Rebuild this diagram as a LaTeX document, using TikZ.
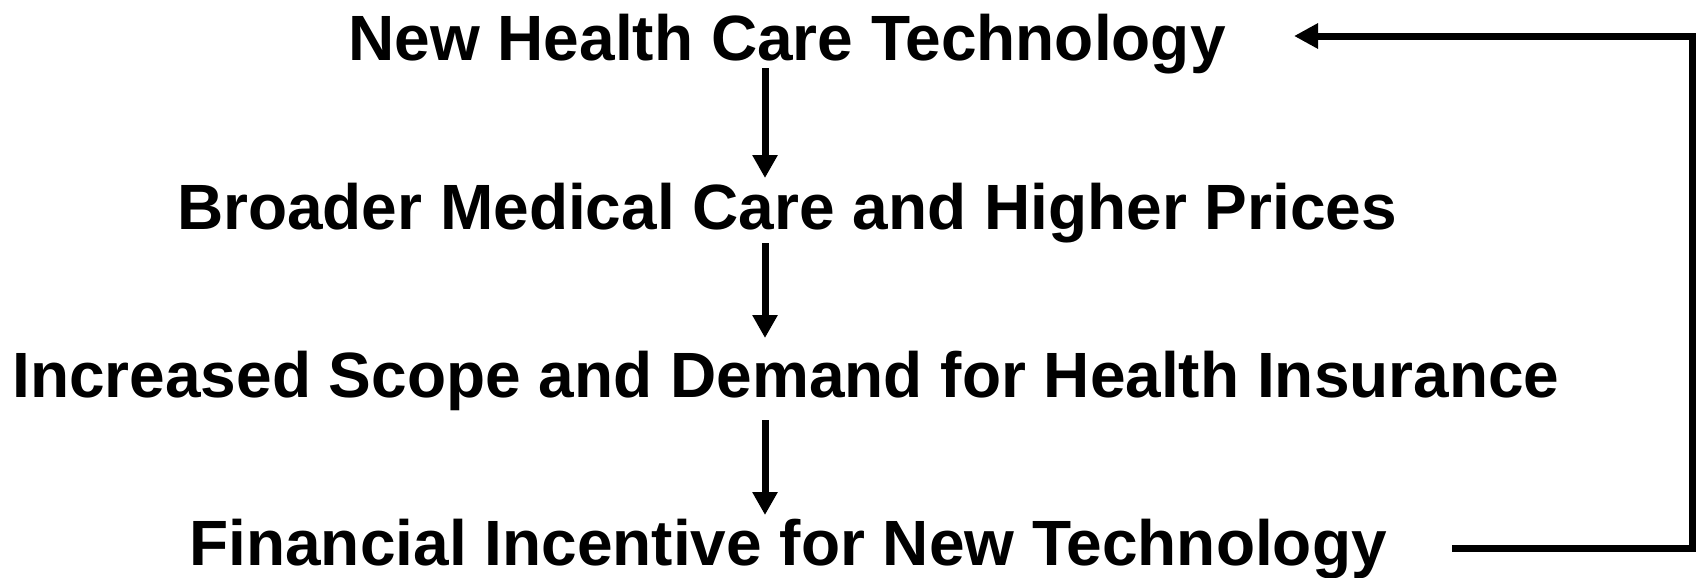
\documentclass[tikz,border=0pt]{standalone}
\usepackage{fontspec}
\setmainfont{Liberation Sans}
\usetikzlibrary{arrows.meta}
\begin{document}
\begin{tikzpicture}[x=0.5pt,y=-0.5pt,
  lbl/.style={font=\bfseries\fontsize{32pt}{38pt}\selectfont, inner sep=0pt, anchor=base},
  arr/.style={line width=3.5pt, -{Triangle[length=11.5pt,width=12pt]}},
  fb/.style={line width=3.5pt, -{Triangle[length=12pt,width=12pt]}}]
\useasboundingbox (0,0) rectangle (1703,578);
\node[lbl] (t1) at (787,61) {New Health Care Technology};
\node[lbl] (t2) at (787,229) {Broader Medical Care and Higher Prices};
\node[lbl] (t3) at (786,397) {Increased Scope and Demand for Health Insurance};
\node[lbl] (t4) at (788,565) {Financial Incentive for New Technology};
\draw[arr] ([shift={(-22,7)}]t1.base) -- ([shift={(-22,-51)}]t2.base);
\draw[arr] ([shift={(-22,14)}]t2.base) -- ([shift={(-21,-59)}]t3.base);
\draw[arr] ([shift={(-21,23)}]t3.base) -- ([shift={(-23,-50)}]t4.base);
\draw[fb, line join=miter] ([shift={(65,-17)}]t4.base east) -| (1692,36) -- ([shift={(68,-25)}]t1.base east);
\end{tikzpicture}
\end{document}
